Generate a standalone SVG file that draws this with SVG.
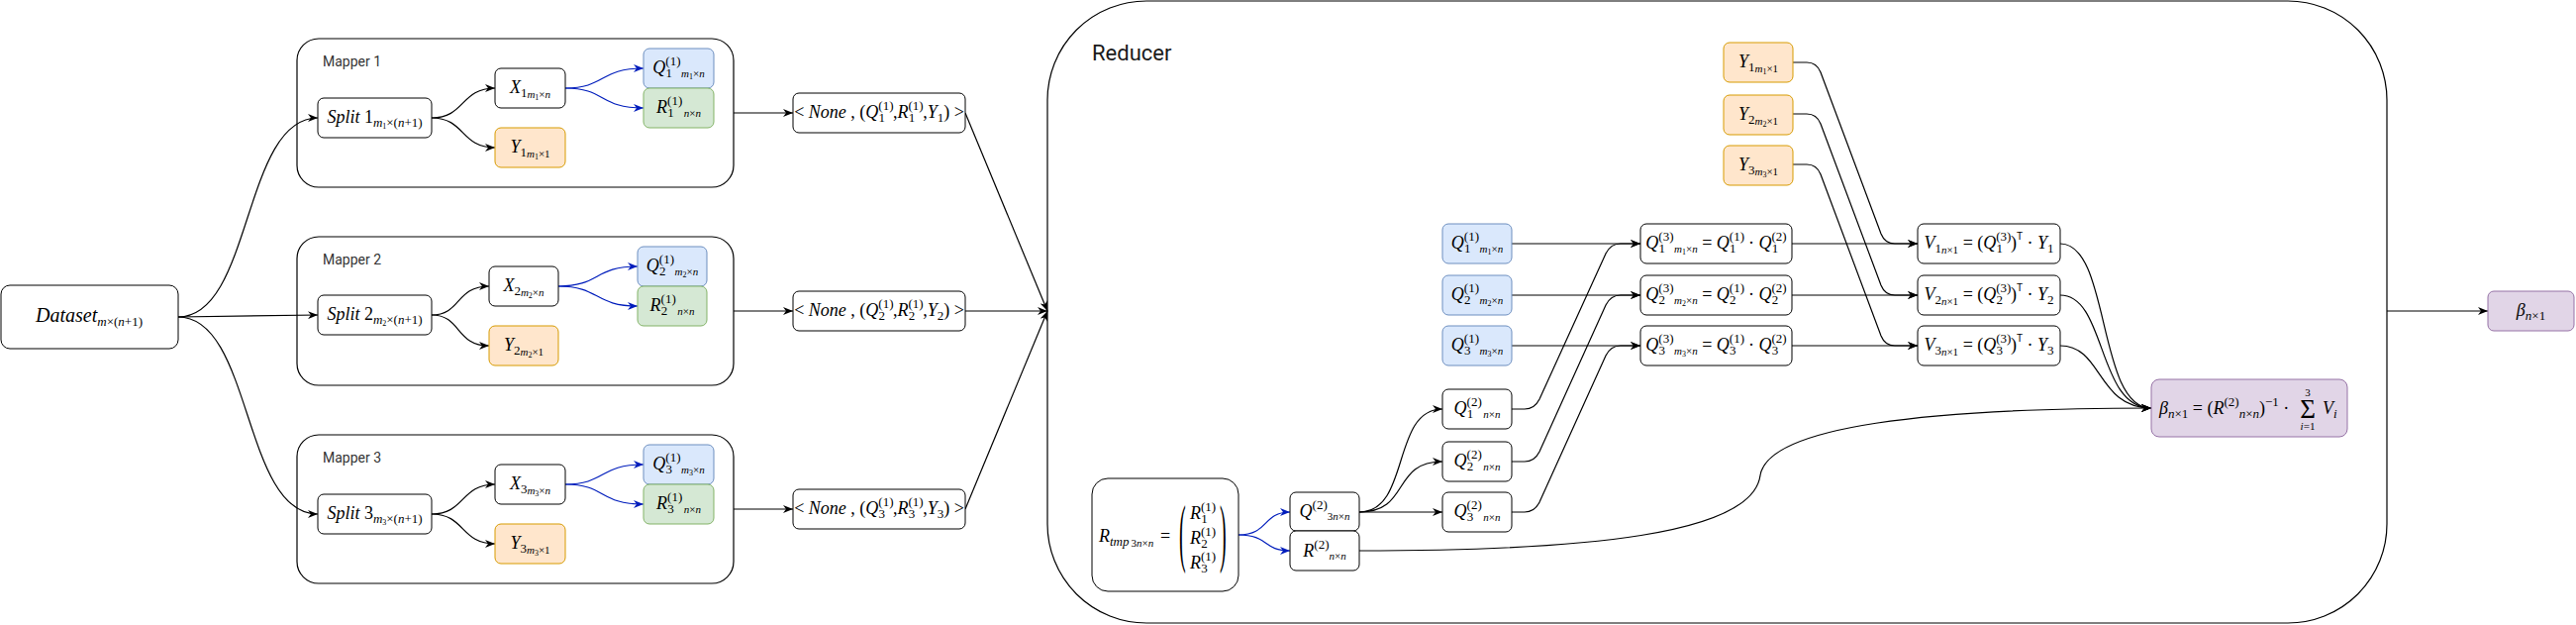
<svg xmlns="http://www.w3.org/2000/svg" width="2602" height="631" viewBox="0 0 2602 631">
<style>
.bx{fill:#fff;stroke:#000;stroke-width:1}
.cont{fill:#fff;stroke:#000;stroke-width:1.2}
.blue{fill:#dae8fc;stroke:#6c8ebf;stroke-width:1}
.green{fill:#d5e8d4;stroke:#82b366;stroke-width:1}
.orange{fill:#ffe6cc;stroke:#d79b00;stroke-width:1}
.purple{fill:#e1d5e7;stroke:#9673a6;stroke-width:1}
.t{font-family:"Liberation Serif","DejaVu Serif",serif;font-size:18px;fill:#000}
.c{text-anchor:middle}
.i{font-style:italic}
.s{font-size:13px}
.ss{font-size:11px}
.sss{font-size:8px}
.tt{font-family:"Liberation Sans",sans-serif;font-size:10px}
.lbl{font-family:Roboto,"Liberation Sans",sans-serif;font-size:14px;fill:#333}
.big{font-family:Roboto,"Liberation Sans",sans-serif;font-size:22px;fill:#1a1a1a}
.e{fill:none;stroke:#000;stroke-width:1.2;marker-end:url(#a)}
.eb{fill:none;stroke:#001DBC;stroke-width:1.2;marker-end:url(#ab)}
</style>
<defs>
<marker id="a" viewBox="0 0 10 8" refX="10" refY="4" markerWidth="10" markerHeight="8" markerUnits="userSpaceOnUse" orient="auto"><path d="M0,0 L10,4 L0,8 L3,4 Z" fill="#000"/></marker>
<marker id="ab" viewBox="0 0 10 8" refX="10" refY="4" markerWidth="10" markerHeight="8" markerUnits="userSpaceOnUse" orient="auto"><path d="M0,0 L10,4 L0,8 L3,4 Z" fill="#001DBC"/></marker>
</defs>

<!-- containers -->
<g id="mapper1"><rect class="cont" x="300" y="39" width="441" height="150" rx="22"/><text class="lbl" x="326" y="67">Mapper 1</text></g>
<g id="mapper2"><rect class="cont" x="300" y="239" width="441" height="150" rx="22"/><text class="lbl" x="326" y="267">Mapper 2</text></g>
<g id="mapper3"><rect class="cont" x="300" y="439" width="441" height="150" rx="22"/><text class="lbl" x="326" y="467">Mapper 3</text></g>
<g id="reducer"><rect class="cont" x="1058" y="1" width="1353" height="628" rx="100"/><text class="big" x="1103" y="61">Reducer</text></g>

<!-- connectors -->
<g id="connectors">
<path class="e" d="M180,320 C255,320 245,119 321,119"/>
<path class="e" d="M180,320 L321,318"/>
<path class="e" d="M180,320 C255,320 245,519 321,519"/>
<path class="e" d="M436,119 C470,119 465,89 500,89"/>
<path class="e" d="M436,119 C470,119 465,149 500,149"/>
<path class="eb" d="M571,89 C612,89 605,69 650,69"/>
<path class="eb" d="M571,89 C612,89 605,109 650,109"/>
<path class="e" d="M741,114 L801,114"/>
<path class="e" d="M436,318 C466,318 460,289 494,289"/>
<path class="e" d="M436,318 C466,318 460,349 494,349"/>
<path class="eb" d="M564,289 C606,289 600,269 644,269"/>
<path class="eb" d="M564,289 C606,289 600,309 644,309"/>
<path class="e" d="M741,314 L801,314"/>
<path class="e" d="M436,519 C470,519 465,489 500,489"/>
<path class="e" d="M436,519 C470,519 465,549 500,549"/>
<path class="eb" d="M571,489 C612,489 605,469 650,469"/>
<path class="eb" d="M571,489 C612,489 605,509 650,509"/>
<path class="e" d="M741,514 L801,514"/>
<path class="e" d="M975,114 L1058,314"/>
<path class="e" d="M975,314 L1058,314"/>
<path class="e" d="M975,514 L1058,314"/>
<path class="eb" d="M1251,540 C1282,540 1275,517 1303,517"/>
<path class="eb" d="M1251,540 C1282,540 1275,556 1303,556"/>
<path class="e" d="M1373,517 C1425,517 1405,413 1457,413"/>
<path class="e" d="M1373,517 C1425,517 1405,466 1457,466"/>
<path class="e" d="M1373,517 L1457,517"/>
<path class="e" d="M1527,246 L1657,246"/>
<path class="e" d="M1527,298 L1657,298"/>
<path class="e" d="M1527,349 L1657,349"/>
<path class="e" d="M1527,413 L1540,413 Q1550,413 1555,403 L1622,256 Q1627,246 1637,246 L1657,246"/>
<path class="e" d="M1527,466 L1540,466 Q1550,466 1555,456 L1622,308 Q1627,298 1637,298 L1657,298"/>
<path class="e" d="M1527,517 L1540,517 Q1550,517 1555,507 L1622,359 Q1627,349 1637,349 L1657,349"/>
<path class="e" d="M1810,246 L1937,246"/>
<path class="e" d="M1810,298 L1937,298"/>
<path class="e" d="M1810,349 L1937,349"/>
<path class="e" d="M1811,63 L1825,63 Q1835,63 1839,73 L1900,236 Q1904,246 1914,246 L1937,246"/>
<path class="e" d="M1811,115 L1825,115 Q1835,115 1839,125 L1900,288 Q1904,298 1914,298 L1937,298"/>
<path class="e" d="M1811,166 L1825,166 Q1835,166 1839,176 L1900,339 Q1904,349 1914,349 L1937,349"/>
<path class="e" d="M2081,246 C2132,246 2118,412 2173,412"/>
<path class="e" d="M2081,298 C2128,298 2118,412 2173,412"/>
<path class="e" d="M2081,349 C2124,349 2118,412 2173,412"/>
<path class="e" d="M1373,556 C1600,556 1770,540 1778,480 C1786,430 1950,412 2173,412"/>
<path class="e" d="M2411,314 L2513,314"/>
</g>

<!-- dataset -->
<g id="dataset"><rect class="bx" x="1" y="288" width="179" height="64" rx="9"/>
<text class="t c" x="90" y="325" style="font-size:20px"><tspan class="i">Dataset</tspan><tspan class="s i" dy="4">m</tspan><tspan class="s">×(</tspan><tspan class="s i">n</tspan><tspan class="s">+1)</tspan></text></g>

<!-- mapper 1 nodes -->
<g id="split1"><rect class="bx" x="321" y="99" width="115" height="40" rx="6"/>
<text class="t c" x="378.5" y="124"><tspan class="i">Split</tspan> 1<tspan class="s i" dy="4">m</tspan><tspan class="sss" dy="2">1</tspan><tspan class="s" dy="-2">×(</tspan><tspan class="s i">n</tspan><tspan class="s">+1)</tspan></text></g>
<g id="x1"><rect class="bx" x="500" y="69" width="71" height="40" rx="6"/>
<text class="t c" x="535.5" y="94"><tspan class="i">X</tspan><tspan class="s" dy="4">1</tspan><tspan class="ss i" dy="1">m</tspan><tspan class="sss" dy="2">1</tspan><tspan class="ss" dy="-2">×</tspan><tspan class="ss i">n</tspan></text></g>
<g id="y1"><rect class="orange" x="500" y="129" width="71" height="40" rx="6"/>
<text class="t c" x="535.5" y="154"><tspan class="i">Y</tspan><tspan class="s" dy="4">1</tspan><tspan class="ss i" dy="1">m</tspan><tspan class="sss" dy="2">1</tspan><tspan class="ss" dy="-2">×1</tspan></text></g>
<g id="q1"><rect class="blue" x="650" y="49" width="71" height="40" rx="6"/>
<text class="t c" x="685.5" y="74"><tspan class="i">Q</tspan><tspan class="s" dy="-8">(1)</tspan><tspan class="s" dx="-15" dy="12">1</tspan><tspan class="ss i" dx="9">m</tspan><tspan class="sss" dy="2">1</tspan><tspan class="ss" dy="-2">×</tspan><tspan class="ss i">n</tspan></text></g>
<g id="r1"><rect class="green" x="650" y="89" width="71" height="40" rx="6"/>
<text class="t c" x="685.5" y="114"><tspan class="i">R</tspan><tspan class="s" dy="-8">(1)</tspan><tspan class="s" dx="-15" dy="12">1</tspan><tspan class="ss i" dx="10">n</tspan><tspan class="ss">×</tspan><tspan class="ss i">n</tspan></text></g>
<g id="none1"><rect class="bx" x="801" y="94" width="174" height="40" rx="6"/>
<text class="t c" x="888" y="119">&lt; <tspan class="i">None</tspan> , (<tspan class="i">Q</tspan><tspan class="s" dy="-8">(1)</tspan><tspan class="s" dx="-15" dy="12">1</tspan><tspan dx="8" dy="-4">,</tspan><tspan class="i">R</tspan><tspan class="s" dy="-8">(1)</tspan><tspan class="s" dx="-15" dy="12">1</tspan><tspan dx="8" dy="-4">,</tspan><tspan class="i">Y</tspan><tspan class="s" dy="4">1</tspan><tspan dy="-4">) &gt;</tspan></text></g>

<!-- mapper 2 nodes -->
<g id="split2"><rect class="bx" x="321" y="298" width="115" height="40" rx="6"/>
<text class="t c" x="378.5" y="323"><tspan class="i">Split</tspan> 2<tspan class="s i" dy="4">m</tspan><tspan class="sss" dy="2">2</tspan><tspan class="s" dy="-2">×(</tspan><tspan class="s i">n</tspan><tspan class="s">+1)</tspan></text></g>
<g id="x2"><rect class="bx" x="494" y="269" width="70" height="40" rx="6"/>
<text class="t c" x="529" y="294"><tspan class="i">X</tspan><tspan class="s" dy="4">2</tspan><tspan class="ss i" dy="1">m</tspan><tspan class="sss" dy="2">2</tspan><tspan class="ss" dy="-2">×</tspan><tspan class="ss i">n</tspan></text></g>
<g id="y2"><rect class="orange" x="494" y="329" width="70" height="40" rx="6"/>
<text class="t c" x="529" y="354"><tspan class="i">Y</tspan><tspan class="s" dy="4">2</tspan><tspan class="ss i" dy="1">m</tspan><tspan class="sss" dy="2">2</tspan><tspan class="ss" dy="-2">×1</tspan></text></g>
<g id="q2"><rect class="blue" x="644" y="249" width="70" height="40" rx="6"/>
<text class="t c" x="679" y="274"><tspan class="i">Q</tspan><tspan class="s" dy="-8">(1)</tspan><tspan class="s" dx="-15" dy="12">2</tspan><tspan class="ss i" dx="9">m</tspan><tspan class="sss" dy="2">2</tspan><tspan class="ss" dy="-2">×</tspan><tspan class="ss i">n</tspan></text></g>
<g id="r2"><rect class="green" x="644" y="289" width="70" height="40" rx="6"/>
<text class="t c" x="679" y="314"><tspan class="i">R</tspan><tspan class="s" dy="-8">(1)</tspan><tspan class="s" dx="-15" dy="12">2</tspan><tspan class="ss i" dx="10">n</tspan><tspan class="ss">×</tspan><tspan class="ss i">n</tspan></text></g>
<g id="none2"><rect class="bx" x="801" y="294" width="174" height="40" rx="6"/>
<text class="t c" x="888" y="319">&lt; <tspan class="i">None</tspan> , (<tspan class="i">Q</tspan><tspan class="s" dy="-8">(1)</tspan><tspan class="s" dx="-15" dy="12">2</tspan><tspan dx="8" dy="-4">,</tspan><tspan class="i">R</tspan><tspan class="s" dy="-8">(1)</tspan><tspan class="s" dx="-15" dy="12">2</tspan><tspan dx="8" dy="-4">,</tspan><tspan class="i">Y</tspan><tspan class="s" dy="4">2</tspan><tspan dy="-4">) &gt;</tspan></text></g>

<!-- mapper 3 nodes -->
<g id="split3"><rect class="bx" x="321" y="499" width="115" height="40" rx="6"/>
<text class="t c" x="378.5" y="524"><tspan class="i">Split</tspan> 3<tspan class="s i" dy="4">m</tspan><tspan class="sss" dy="2">3</tspan><tspan class="s" dy="-2">×(</tspan><tspan class="s i">n</tspan><tspan class="s">+1)</tspan></text></g>
<g id="x3"><rect class="bx" x="500" y="469" width="71" height="40" rx="6"/>
<text class="t c" x="535.5" y="494"><tspan class="i">X</tspan><tspan class="s" dy="4">3</tspan><tspan class="ss i" dy="1">m</tspan><tspan class="sss" dy="2">3</tspan><tspan class="ss" dy="-2">×</tspan><tspan class="ss i">n</tspan></text></g>
<g id="y3"><rect class="orange" x="500" y="529" width="71" height="40" rx="6"/>
<text class="t c" x="535.5" y="554"><tspan class="i">Y</tspan><tspan class="s" dy="4">3</tspan><tspan class="ss i" dy="1">m</tspan><tspan class="sss" dy="2">3</tspan><tspan class="ss" dy="-2">×1</tspan></text></g>
<g id="q3"><rect class="blue" x="650" y="449" width="71" height="40" rx="6"/>
<text class="t c" x="685.5" y="474"><tspan class="i">Q</tspan><tspan class="s" dy="-8">(1)</tspan><tspan class="s" dx="-15" dy="12">3</tspan><tspan class="ss i" dx="9">m</tspan><tspan class="sss" dy="2">3</tspan><tspan class="ss" dy="-2">×</tspan><tspan class="ss i">n</tspan></text></g>
<g id="r3"><rect class="green" x="650" y="489" width="71" height="40" rx="6"/>
<text class="t c" x="685.5" y="514"><tspan class="i">R</tspan><tspan class="s" dy="-8">(1)</tspan><tspan class="s" dx="-15" dy="12">3</tspan><tspan class="ss i" dx="10">n</tspan><tspan class="ss">×</tspan><tspan class="ss i">n</tspan></text></g>
<g id="none3"><rect class="bx" x="801" y="494" width="174" height="40" rx="6"/>
<text class="t c" x="888" y="519">&lt; <tspan class="i">None</tspan> , (<tspan class="i">Q</tspan><tspan class="s" dy="-8">(1)</tspan><tspan class="s" dx="-15" dy="12">3</tspan><tspan dx="8" dy="-4">,</tspan><tspan class="i">R</tspan><tspan class="s" dy="-8">(1)</tspan><tspan class="s" dx="-15" dy="12">3</tspan><tspan dx="8" dy="-4">,</tspan><tspan class="i">Y</tspan><tspan class="s" dy="4">3</tspan><tspan dy="-4">) &gt;</tspan></text></g>

<!-- reducer nodes -->
<g id="rtmp"><rect class="bx" x="1103" y="483" width="148" height="114" rx="16"/>
<text class="t" x="1110" y="547"><tspan class="i">R</tspan><tspan class="s i" dy="4">tmp</tspan><tspan class="ss" dx="2" dy="1">3</tspan><tspan class="ss i">n</tspan><tspan class="ss">×</tspan><tspan class="ss i">n</tspan></text>
<text class="t" x="1172" y="547">=</text>
<text class="t" style="font-size:20px" transform="translate(1191,563) scale(1,3.8)">(</text>
<text class="t" style="font-size:20px" transform="translate(1232,563) scale(1,3.8)">)</text>
<text class="t" x="1202" y="524"><tspan class="i">R</tspan><tspan class="s" dy="-8">(1)</tspan><tspan class="s" dx="-15" dy="12">1</tspan></text>
<text class="t" x="1202" y="549"><tspan class="i">R</tspan><tspan class="s" dy="-8">(1)</tspan><tspan class="s" dx="-15" dy="12">2</tspan></text>
<text class="t" x="1202" y="574"><tspan class="i">R</tspan><tspan class="s" dy="-8">(1)</tspan><tspan class="s" dx="-15" dy="12">3</tspan></text></g>
<g id="q2r"><rect class="bx" x="1303" y="497" width="70" height="39" rx="6"/>
<text class="t c" x="1338" y="522"><tspan class="i">Q</tspan><tspan class="s" dy="-8">(2)</tspan><tspan class="ss" dy="11">3</tspan><tspan class="ss i">n</tspan><tspan class="ss">×</tspan><tspan class="ss i">n</tspan></text></g>
<g id="r2r"><rect class="bx" x="1303" y="536" width="70" height="40" rx="6"/>
<text class="t c" x="1338" y="562"><tspan class="i">R</tspan><tspan class="s" dy="-8">(2)</tspan><tspan class="ss i" dy="11">n</tspan><tspan class="ss">×</tspan><tspan class="ss i">n</tspan></text></g>

<g id="qa1"><rect class="blue" x="1457" y="226" width="70" height="40" rx="6"/>
<text class="t c" x="1492" y="251"><tspan class="i">Q</tspan><tspan class="s" dy="-8">(1)</tspan><tspan class="s" dx="-15" dy="12">1</tspan><tspan class="ss i" dx="9">m</tspan><tspan class="sss" dy="2">1</tspan><tspan class="ss" dy="-2">×</tspan><tspan class="ss i">n</tspan></text></g>
<g id="qa2"><rect class="blue" x="1457" y="278" width="70" height="40" rx="6"/>
<text class="t c" x="1492" y="303"><tspan class="i">Q</tspan><tspan class="s" dy="-8">(1)</tspan><tspan class="s" dx="-15" dy="12">2</tspan><tspan class="ss i" dx="9">m</tspan><tspan class="sss" dy="2">2</tspan><tspan class="ss" dy="-2">×</tspan><tspan class="ss i">n</tspan></text></g>
<g id="qa3"><rect class="blue" x="1457" y="329" width="70" height="40" rx="6"/>
<text class="t c" x="1492" y="354"><tspan class="i">Q</tspan><tspan class="s" dy="-8">(1)</tspan><tspan class="s" dx="-15" dy="12">3</tspan><tspan class="ss i" dx="9">m</tspan><tspan class="sss" dy="2">3</tspan><tspan class="ss" dy="-2">×</tspan><tspan class="ss i">n</tspan></text></g>

<g id="qb1"><rect class="bx" x="1457" y="393" width="70" height="40" rx="6"/>
<text class="t c" x="1492" y="418"><tspan class="i">Q</tspan><tspan class="s" dy="-8">(2)</tspan><tspan class="s" dx="-15" dy="12">1</tspan><tspan class="ss i" dx="10">n</tspan><tspan class="ss">×</tspan><tspan class="ss i">n</tspan></text></g>
<g id="qb2"><rect class="bx" x="1457" y="446" width="70" height="40" rx="6"/>
<text class="t c" x="1492" y="471"><tspan class="i">Q</tspan><tspan class="s" dy="-8">(2)</tspan><tspan class="s" dx="-15" dy="12">2</tspan><tspan class="ss i" dx="10">n</tspan><tspan class="ss">×</tspan><tspan class="ss i">n</tspan></text></g>
<g id="qb3"><rect class="bx" x="1457" y="497" width="70" height="40" rx="6"/>
<text class="t c" x="1492" y="522"><tspan class="i">Q</tspan><tspan class="s" dy="-8">(2)</tspan><tspan class="s" dx="-15" dy="12">3</tspan><tspan class="ss i" dx="10">n</tspan><tspan class="ss">×</tspan><tspan class="ss i">n</tspan></text></g>

<g id="qc1"><rect class="bx" x="1657" y="226" width="153" height="40" rx="6"/>
<text class="t c" x="1733.5" y="251"><tspan class="i">Q</tspan><tspan class="s" dy="-8">(3)</tspan><tspan class="s" dx="-15" dy="12">1</tspan><tspan class="ss i" dx="9">m</tspan><tspan class="sss" dy="2">1</tspan><tspan class="ss" dy="-2">×</tspan><tspan class="ss i">n</tspan><tspan dy="-4"> = </tspan><tspan class="i">Q</tspan><tspan class="s" dy="-8">(1)</tspan><tspan class="s" dx="-15" dy="12">1</tspan><tspan dx="8" dy="-4"> · </tspan><tspan class="i">Q</tspan><tspan class="s" dy="-8">(2)</tspan><tspan class="s" dx="-15" dy="12">1</tspan></text></g>
<g id="qc2"><rect class="bx" x="1657" y="278" width="153" height="40" rx="6"/>
<text class="t c" x="1733.5" y="303"><tspan class="i">Q</tspan><tspan class="s" dy="-8">(3)</tspan><tspan class="s" dx="-15" dy="12">2</tspan><tspan class="ss i" dx="9">m</tspan><tspan class="sss" dy="2">2</tspan><tspan class="ss" dy="-2">×</tspan><tspan class="ss i">n</tspan><tspan dy="-4"> = </tspan><tspan class="i">Q</tspan><tspan class="s" dy="-8">(1)</tspan><tspan class="s" dx="-15" dy="12">2</tspan><tspan dx="8" dy="-4"> · </tspan><tspan class="i">Q</tspan><tspan class="s" dy="-8">(2)</tspan><tspan class="s" dx="-15" dy="12">2</tspan></text></g>
<g id="qc3"><rect class="bx" x="1657" y="329" width="153" height="40" rx="6"/>
<text class="t c" x="1733.5" y="354"><tspan class="i">Q</tspan><tspan class="s" dy="-8">(3)</tspan><tspan class="s" dx="-15" dy="12">3</tspan><tspan class="ss i" dx="9">m</tspan><tspan class="sss" dy="2">3</tspan><tspan class="ss" dy="-2">×</tspan><tspan class="ss i">n</tspan><tspan dy="-4"> = </tspan><tspan class="i">Q</tspan><tspan class="s" dy="-8">(1)</tspan><tspan class="s" dx="-15" dy="12">3</tspan><tspan dx="8" dy="-4"> · </tspan><tspan class="i">Q</tspan><tspan class="s" dy="-8">(2)</tspan><tspan class="s" dx="-15" dy="12">3</tspan></text></g>

<g id="yr1"><rect class="orange" x="1741" y="43" width="70" height="40" rx="6"/>
<text class="t c" x="1776" y="68"><tspan class="i">Y</tspan><tspan class="s" dy="4">1</tspan><tspan class="ss i" dy="1">m</tspan><tspan class="sss" dy="2">1</tspan><tspan class="ss" dy="-2">×1</tspan></text></g>
<g id="yr2"><rect class="orange" x="1741" y="96" width="70" height="40" rx="6"/>
<text class="t c" x="1776" y="121"><tspan class="i">Y</tspan><tspan class="s" dy="4">2</tspan><tspan class="ss i" dy="1">m</tspan><tspan class="sss" dy="2">2</tspan><tspan class="ss" dy="-2">×1</tspan></text></g>
<g id="yr3"><rect class="orange" x="1741" y="147" width="70" height="40" rx="6"/>
<text class="t c" x="1776" y="172"><tspan class="i">Y</tspan><tspan class="s" dy="4">3</tspan><tspan class="ss i" dy="1">m</tspan><tspan class="sss" dy="2">3</tspan><tspan class="ss" dy="-2">×1</tspan></text></g>

<g id="v1"><rect class="bx" x="1937" y="226" width="144" height="40" rx="6"/>
<text class="t c" x="2009" y="251"><tspan class="i">V</tspan><tspan class="s" dy="4">1</tspan><tspan class="ss i" dy="1">n</tspan><tspan class="ss">×1</tspan><tspan dy="-5"> = (</tspan><tspan class="i">Q</tspan><tspan class="s" dy="-8">(3)</tspan><tspan class="s" dx="-15" dy="12">1</tspan><tspan dx="8" dy="-4">)</tspan><tspan class="tt" dy="-9">T</tspan><tspan dy="9"> · </tspan><tspan class="i">Y</tspan><tspan class="s" dy="4">1</tspan></text></g>
<g id="v2"><rect class="bx" x="1937" y="278" width="144" height="40" rx="6"/>
<text class="t c" x="2009" y="303"><tspan class="i">V</tspan><tspan class="s" dy="4">2</tspan><tspan class="ss i" dy="1">n</tspan><tspan class="ss">×1</tspan><tspan dy="-5"> = (</tspan><tspan class="i">Q</tspan><tspan class="s" dy="-8">(3)</tspan><tspan class="s" dx="-15" dy="12">2</tspan><tspan dx="8" dy="-4">)</tspan><tspan class="tt" dy="-9">T</tspan><tspan dy="9"> · </tspan><tspan class="i">Y</tspan><tspan class="s" dy="4">2</tspan></text></g>
<g id="v3"><rect class="bx" x="1937" y="329" width="144" height="40" rx="6"/>
<text class="t c" x="2009" y="354"><tspan class="i">V</tspan><tspan class="s" dy="4">3</tspan><tspan class="ss i" dy="1">n</tspan><tspan class="ss">×1</tspan><tspan dy="-5"> = (</tspan><tspan class="i">Q</tspan><tspan class="s" dy="-8">(3)</tspan><tspan class="s" dx="-15" dy="12">3</tspan><tspan dx="8" dy="-4">)</tspan><tspan class="tt" dy="-9">T</tspan><tspan dy="9"> · </tspan><tspan class="i">Y</tspan><tspan class="s" dy="4">3</tspan></text></g>

<g id="beta"><rect class="purple" x="2173" y="383" width="198" height="58" rx="8"/>
<text class="t" x="2181" y="418"><tspan class="i">β</tspan><tspan class="s i" dy="4">n</tspan><tspan class="s">×1</tspan><tspan dy="-4"> = (</tspan><tspan class="i">R</tspan><tspan class="s" dy="-8">(2)</tspan><tspan class="s i" dy="12">n</tspan><tspan class="s">×</tspan><tspan class="s i">n</tspan><tspan dy="-4">)</tspan><tspan class="s" dy="-8">−1</tspan><tspan dy="8"> · </tspan></text>
<text class="t c" x="2331" y="422" style="font-size:27px">Σ</text>
<text class="t c ss" x="2331" y="400">3</text>
<text class="t c ss" x="2331" y="434"><tspan class="i">i</tspan>=1</text>
<text class="t" x="2346" y="418"><tspan class="i">V</tspan><tspan class="s i" dy="4">i</tspan></text></g>

<g id="betaout"><rect class="purple" x="2513" y="294" width="87" height="40" rx="6"/>
<text class="t c" x="2556.5" y="319"><tspan class="i">β</tspan><tspan class="s i" dy="4">n</tspan><tspan class="s">×1</tspan></text></g>
</svg>
